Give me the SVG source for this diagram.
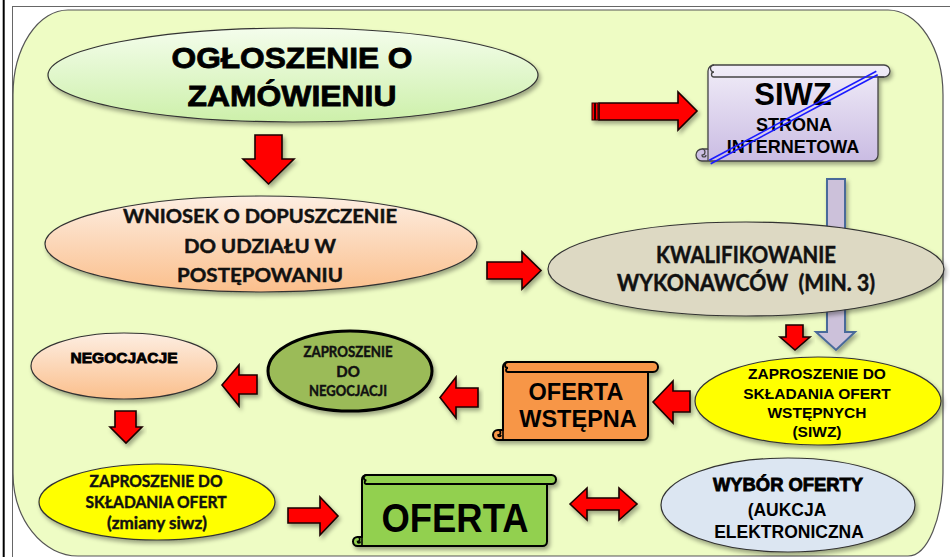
<svg xmlns="http://www.w3.org/2000/svg" width="950" height="557" viewBox="0 0 950 557">
<style>
.ar{font-family:"Liberation Sans",Arial,sans-serif;font-weight:bold;fill:#000;text-anchor:middle}
.ca{font-family:Lato,"Open Sans",sans-serif;font-weight:bold;fill:#111;text-anchor:middle;stroke:#111;stroke-width:0.45}
.ol{stroke:#000;stroke-width:0.8}
.red{fill:#ff0000;stroke:#1a0000;stroke-width:1.6;stroke-linejoin:miter}
.scr{stroke-linejoin:round}
</style>
<defs>
<filter id="sh" x="-10%" y="-10%" width="125%" height="130%">
<feDropShadow dx="2" dy="3" stdDeviation="2" flood-color="#000" flood-opacity="0.35"/>
</filter>
<linearGradient id="gGreen" x1="0" y1="0" x2="0" y2="1">
<stop offset="0" stop-color="#f4fdec"/><stop offset="1" stop-color="#cdf0aa"/>
</linearGradient>
<linearGradient id="gPeach" x1="0" y1="0" x2="0" y2="1">
<stop offset="0" stop-color="#fdeee2"/><stop offset="1" stop-color="#fbbf8c"/>
</linearGradient>
<linearGradient id="gLav" x1="0" y1="0" x2="0" y2="1">
<stop offset="0" stop-color="#f1edf8"/><stop offset="1" stop-color="#cabce3"/>
</linearGradient>
</defs>

<!-- page frame -->
<g id="frame">
<rect x="0" y="0" width="950" height="557" fill="#ffffff"/>
<line x1="3.7" y1="0" x2="3.7" y2="557" stroke="#000" stroke-width="2"/>
<line x1="12" y1="6.5" x2="950" y2="6.5" stroke="#666" stroke-width="1.2"/>
<line x1="12.5" y1="6" x2="12.5" y2="557" stroke="#666" stroke-width="1"/>
<path d="M 13 95 A 55 85 0 0 1 68 10 L 888 10 A 55 85 0 0 1 943 95 L 943 473 A 35 83 0 0 1 908 556 L 78 556 A 65 83 0 0 1 13 473 Z" fill="#eefcc4" stroke="#555" stroke-width="1.2"/>
</g>

<g id="connectors">
<!-- OGLOSZENIE -> WNIOSEK -->
<polygon class="red" filter="url(#sh)" points="255,135 282,135 282,159 294,159 268.5,184 243,159 255,159"/>
<!-- -> SIWZ (striped) -->
<g filter="url(#sh)">
<polygon class="red" points="599,103 678,103 678,92 697,111 678,130 678,120 599,120"/>
<rect x="592" y="103" width="2.5" height="17" fill="#ff0000" stroke="#2a0000" stroke-width="1"/>
<rect x="595.5" y="103" width="2.5" height="17" fill="#ff0000" stroke="#2a0000" stroke-width="1"/>
</g>
<!-- WNIOSEK -> KWALIFIKOWANIE -->
<polygon class="red" filter="url(#sh)" points="487,262 522,262 522,252 541,270.5 522,289 522,279 487,279"/>
<!-- SIWZ -> ZAPROSZENIE (lavender) -->
<polygon filter="url(#sh)" points="827,179 845,179 845,332 855,332 836,350 816,332 827,332" fill="#ccc1da" stroke="#4a6a9a" stroke-width="2"/>
<!-- KWALIFIKOWANIE -> ZAPROSZENIE -->
<polygon class="red" filter="url(#sh)" points="786,325 803,325 803,337 810,337 795,350 780,337 786,337"/>
<!-- ZAPROSZENIE -> OFERTA WSTEPNA -->
<polygon class="red" filter="url(#sh)" points="690,391 673,391 673,381 653,402 673,423 673,412 690,412"/>
<!-- OFERTA WSTEPNA -> ZAPROSZENIE DO NEGOCJACJI -->
<polygon class="red" filter="url(#sh)" points="478,388 456,388 456,377 440,397.5 456,418 456,407 478,407"/>
<!-- ZAPROSZENIE DO NEGOCJACJI -> NEGOCJACJE -->
<polygon class="red" filter="url(#sh)" points="257,375 239,375 239,365 222,385 239,406 239,394 257,394"/>
<!-- NEGOCJACJE -> ZAPROSZENIE (zmiany siwz) -->
<polygon class="red" filter="url(#sh)" points="115,411 136,411 136,427 142,427 126,443 110,427 115,427"/>
<!-- ZAPROSZENIE -> OFERTA -->
<polygon class="red" filter="url(#sh)" points="288,508 320,508 320,497 338,516 320,535 320,523 288,523"/>
<!-- OFERTA <-> WYBOR -->
<polygon class="red" filter="url(#sh)" points="570,504 587,488 587,498 619,498 619,488 637,504 619,520 619,510 587,510 587,520"/>
</g>

<g id="n-ogloszenie">
<ellipse cx="293" cy="75" rx="245" ry="47" fill="url(#gGreen)" stroke="#333" stroke-width="1.2" filter="url(#sh)"/>
<text class="ar ol" x="292" y="68" font-size="30" textLength="241" lengthAdjust="spacingAndGlyphs">OGŁOSZENIE O</text>
<text class="ar ol" x="292" y="106" font-size="30" textLength="209" lengthAdjust="spacingAndGlyphs">ZAMÓWIENIU</text>
</g>

<g id="n-siwz">
<g class="scr" filter="url(#sh)">
<path d="M 708 71 A 6 6 0 0 1 714 65 L 884 65 A 6 6 0 0 1 884 77 L 878 77 L 878 155 A 6 6 0 0 1 872 161 L 702 161 A 6 6 0 0 1 702 149 L 708 149 Z" fill="url(#gLav)" stroke="#444" stroke-width="1.3"/>
</g>
<path d="M 714 77 L 884 77 M 714 65 A 3.5 3.5 0 0 0 714 72 A 2.5 2.5 0 0 0 714 77" fill="none" stroke="#444" stroke-width="1.3"/>
<path d="M 708 149 L 708 161 M 702 149 A 3 3 0 0 1 702 155 A 2 2 0 0 0 706 155" fill="#b8a9d6" stroke="#444" stroke-width="1.2"/>
<text class="ar" x="793" y="105" font-size="31">SIWZ</text>
<text class="ar" x="794" y="131" font-size="18">STRONA</text>
<text class="ar" x="793" y="153" font-size="18">INTERNETOWA</text>
<line x1="709.3" y1="160.3" x2="876.3" y2="71.3" stroke="#1a1aff" stroke-width="1.6"/>
<line x1="710.7" y1="163.7" x2="877.7" y2="74.7" stroke="#1a1aff" stroke-width="1.6"/>
</g>

<g id="n-wniosek">
<ellipse cx="261" cy="244" rx="216" ry="48" fill="url(#gPeach)" stroke="#333" stroke-width="1.2" filter="url(#sh)"/>
<text class="ca" x="260" y="223" font-size="19" textLength="274" lengthAdjust="spacingAndGlyphs">WNIOSEK O DOPUSZCZENIE</text>
<text class="ca" x="260" y="253" font-size="19" textLength="152" lengthAdjust="spacingAndGlyphs">DO UDZIAŁU W</text>
<text class="ca" x="260" y="282" font-size="19" textLength="166" lengthAdjust="spacingAndGlyphs">POSTĘPOWANIU</text>
</g>

<g id="n-kwalifikowanie">
<ellipse cx="746" cy="269" rx="198" ry="47" fill="#ddd9c3" stroke="#333" stroke-width="1.2" filter="url(#sh)"/>
<text class="ca" x="746" y="263" font-size="22" textLength="180" lengthAdjust="spacingAndGlyphs">KWALIFIKOWANIE</text>
<text class="ca" x="746" y="291" font-size="22" textLength="258" lengthAdjust="spacingAndGlyphs" xml:space="preserve">WYKONAWCÓW  (MIN. 3)</text>
</g>

<g id="n-zaproszenie-wstepne">
<ellipse cx="818" cy="401" rx="123" ry="44" fill="#ffff00" stroke="#333" stroke-width="1.2" filter="url(#sh)"/>
<text class="ar" x="817" y="379" font-size="15.5">ZAPROSZENIE DO</text>
<text class="ar" x="817" y="399" font-size="15.5">SKŁADANIA OFERT</text>
<text class="ar" x="817" y="418" font-size="15.5">WSTĘPNYCH</text>
<text class="ar" x="817" y="437" font-size="15.5">(SIWZ)</text>
</g>

<g id="n-oferta-wstepna">
<g class="scr" filter="url(#sh)">
<path d="M 503 367 A 5 5 0 0 1 508 362 L 653 362 A 5 5 0 0 1 653 372 L 648 372 L 648 435 A 5 5 0 0 1 643 440 L 498 440 A 5 5 0 0 1 498 430 L 503 430 Z" fill="#f79646" stroke="#000" stroke-width="2"/>
</g>
<path d="M 508 372 L 653 372 M 508 362 A 3 3 0 0 0 508 368 A 2 2 0 0 0 508 372" fill="none" stroke="#000" stroke-width="1.8"/>
<path d="M 503 430 L 503 440 M 498 430 A 2.5 2.5 0 0 1 498 435 A 1.5 1.5 0 0 0 501 435" fill="#c0692a" stroke="#000" stroke-width="1.6"/>
<text class="ar" x="576" y="400" font-size="23.5">OFERTA</text>
<text class="ar" x="578" y="427" font-size="23.5">WSTĘPNA</text>
</g>

<g id="n-zaproszenie-negocjacji">
<ellipse cx="350" cy="371" rx="82" ry="40" fill="#9bbb59" stroke="#000" stroke-width="3" filter="url(#sh)"/>
<text class="ca" x="348" y="357" font-size="15" textLength="89" lengthAdjust="spacingAndGlyphs">ZAPROSZENIE</text>
<text class="ca" x="348" y="377" font-size="15">DO</text>
<text class="ca" x="348" y="396" font-size="15" textLength="78" lengthAdjust="spacingAndGlyphs">NEGOCJACJI</text>
</g>

<g id="n-negocjacje">
<ellipse cx="124" cy="366" rx="93" ry="33" fill="url(#gPeach)" stroke="#333" stroke-width="1.2" filter="url(#sh)"/>
<text class="ar ol" x="124" y="363" font-size="15" stroke-width="0.5" textLength="107" lengthAdjust="spacingAndGlyphs">NEGOCJACJE</text>
</g>

<g id="n-zaproszenie-zmiany">
<ellipse cx="157" cy="502" rx="118" ry="38" fill="#ffff00" stroke="#333" stroke-width="1.2" filter="url(#sh)"/>
<text class="ca" x="156" y="487" font-size="17" textLength="133" lengthAdjust="spacingAndGlyphs">ZAPROSZENIE DO</text>
<text class="ca" x="156" y="508" font-size="17" textLength="141" lengthAdjust="spacingAndGlyphs">SKŁADANIA OFERT</text>
<text class="ca" x="157" y="529" font-size="17" textLength="100" lengthAdjust="spacingAndGlyphs">(zmiany siwz)</text>
</g>

<g id="n-oferta">
<g class="scr" filter="url(#sh)">
<path d="M 362 479.5 A 4.5 4.5 0 0 1 366.5 475 L 551.5 475 A 4.5 4.5 0 0 1 551.5 484 L 547 484 L 547 541.5 A 4.5 4.5 0 0 1 542.5 546 L 357.5 546 A 4.5 4.5 0 0 1 357.5 537 L 362 537 Z" fill="#92d050" stroke="#000" stroke-width="2"/>
</g>
<path d="M 366.5 484 L 551.5 484 M 366.5 475 A 2.7 2.7 0 0 0 366.5 480.4 A 1.8 1.8 0 0 0 366.5 484" fill="none" stroke="#000" stroke-width="1.8"/>
<path d="M 362 537 L 362 546 M 357.5 537 A 2.2 2.2 0 0 1 357.5 541.5 A 1.4 1.4 0 0 0 360.3 541.5" fill="#6fa33a" stroke="#000" stroke-width="1.6"/>
<text class="ar" x="455" y="532" font-size="40" textLength="147" lengthAdjust="spacingAndGlyphs">OFERTA</text>
</g>

<g id="n-wybor">
<ellipse cx="788" cy="505" rx="127" ry="47" fill="#dce6f2" stroke="#333" stroke-width="1.2" filter="url(#sh)"/>
<text class="ar ol" x="788" y="491" font-size="17.5" stroke-width="0.5" textLength="150" lengthAdjust="spacingAndGlyphs">WYBÓR OFERTY</text>
<text class="ar" x="787" y="516" font-size="17.5">(AUKCJA</text>
<text class="ar" x="789" y="538" font-size="17.5">ELEKTRONICZNA</text>
</g>
</svg>
